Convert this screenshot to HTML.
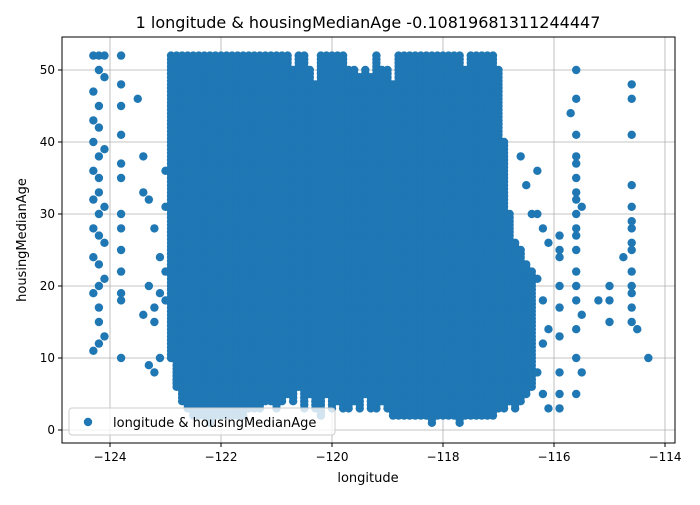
<!DOCTYPE html>
<html><head><meta charset="utf-8"><style>
body{margin:0;background:#fff;font-family:"Liberation Sans","DejaVu Sans",sans-serif}
svg text{font-family:"DejaVu Sans","Liberation Sans",sans-serif}
</style></head><body>
<svg id="c" width="700" height="500" xmlns="http://www.w3.org/2000/svg"></svg>
<script>
const xTicks=[-124,-122,-120,-118,-116,-114];
const yTicks=[0,10,20,30,40,50];
const denseLon=[-122.9,-122.8,-122.7,-122.6,-122.5,-122.4,-122.3,-122.2,-122.1,-122.0,
-121.9,-121.8,-121.7,-121.6,-121.5,-121.4,-121.3,-121.2,-121.1,-121.0,
-120.9,-120.8,-120.7,-120.6,-120.5,-120.4,-120.3,-120.2,-120.1,-120.0,
-119.9,-119.8,-119.7,-119.6,-119.5,-119.4,-119.3,-119.2,-119.1,-119.0,
-118.9,-118.8,-118.7,-118.6,-118.5,-118.4,-118.3,-118.2,-118.1,-118.0,
-117.9,-117.8,-117.7,-117.6,-117.5,-117.4,-117.3,-117.2,-117.1,-117.0,
-116.9,-116.8,-116.7,-116.6,-116.5,-116.4];
const denseMin=[10,6,4,3,2,2,2,1,2,2,
2,2,2,2,3,3,3,4,4,3,
4,5,4,6,3,5,3,2,5,3,
4,3,3,4,3,5,3,3,4,3,
2,2,2,2,2,2,2,1,2,2,
2,2,1,2,2,2,2,2,2,3,
3,4,3,4,5,6];
const denseMax=[52,52,52,52,52,52,52,52,52,52,
52,52,52,52,52,52,52,52,52,52,
52,52,50,52,52,50,48,52,52,52,
52,52,50,50,49,50,49,52,50,50,
48,52,52,52,52,52,52,52,52,52,
52,52,52,50,52,52,52,52,52,50,
40,30,26,25,23,22];
const sparseLon=[-124.3,-124.3,-124.3,-124.3,-124.3,-124.3,-124.3,-124.3,-124.3,-124.3,-124.2,-124.2,-124.2,-124.2,-124.2,-124.2,-124.2,-124.2,-124.2,-124.2,-124.2,-124.2,-124.2,-124.2,-124.1,-124.1,-124.1,-124.1,-124.1,-124.1,-124.1,-123.8,-123.8,-123.8,-123.8,-123.8,-123.8,-123.8,-123.8,-123.8,-123.8,-123.8,-123.8,-123.8,-123.5,-123.4,-123.4,-123.3,-123.3,-123.3,-123.2,-123.2,-123.2,-123.1,-123.1,-123.1,-123.0,-123.0,-123.0,-123.0,-123.2,-123.4,
-116.3,-116.3,-116.3,-116.2,-116.2,-116.2,-116.2,-116.1,-116.1,-116.1,-115.9,-115.9,-115.9,-115.9,-115.9,-115.9,-115.9,-115.9,-115.9,-115.7,-115.6,-115.6,-115.6,-115.6,-115.6,-115.6,-115.6,-115.6,-115.6,-115.6,-115.6,-115.6,-115.6,-115.6,-115.6,-115.6,-115.6,-115.6,-115.5,-115.5,-115.5,-115.2,-115.0,-115.0,-115.0,-114.75,-114.6,-114.6,-114.6,-114.6,-114.6,-114.6,-114.6,-114.6,-114.6,-114.6,-114.6,-114.6,-114.6,-114.6,-114.5,-114.3,
-116.7,-116.6,-116.5,-116.4,-116.3];
const sparseAge=[52,47,43,40,36,32,28,24,19,11,52,50,45,42,38,35,33,30,27,23,20,17,15,12,52,49,39,31,26,21,13,52,48,45,41,37,35,30,28,25,22,19,18,10,46,38,16,32,20,9,28,17,15,24,19,10,36,31,22,18,8,33,
30,21,8,28,18,12,5,26,14,3,27,25,24,20,17,13,8,5,3,44,50,46,41,38,37,35,33,32,30,28,27,25,22,20,18,14,10,5,31,16,8,18,20,18,15,24,48,46,41,34,31,29,28,26,25,22,20,19,17,15,14,10,15,
38,34,30,36,33];
const L=62,R=675,T=37,B=443;
const X=v=>110+(v+124)*55.5;
const Y=v=>430-v*7.2;
const svg=document.getElementById('c');
const NS='http://www.w3.org/2000/svg';
function mk(tag,attrs,parent){const e=document.createElementNS(NS,tag);for(const k in attrs)e.setAttribute(k,attrs[k]);(parent||svg).appendChild(e);return e;}
const grid=mk('g',{});


xTicks.forEach(t=>{const l=mk('line',{x1:X(t),x2:X(t),y1:T,y2:B,stroke:'#b0b0b0','stroke-width':0.8},grid);

});
yTicks.forEach(t=>{const l=mk('line',{x1:L,x2:R,y1:Y(t),y2:Y(t),stroke:'#b0b0b0','stroke-width':0.8},grid);

});
const pts=mk('g',{fill:'#1f77b4'});


denseLon.forEach((lon,i)=>{for(let a=denseMin[i];a<=denseMax[i];a+=0.5){const c=mk('circle',{cx:X(lon),cy:Y(a),r:4.2},pts);

}});
sparseLon.forEach((lon,i)=>{const c=mk('circle',{cx:X(lon),cy:Y(sparseAge[i]),r:4.2},pts);

});
const frame=mk('rect',{x:L,y:T,width:R-L,height:B-T,fill:'none',stroke:'#000','stroke-width':1});


xTicks.forEach(t=>{mk('line',{x1:X(t),x2:X(t),y1:B,y2:B+4,stroke:'#000'});
const tx=mk('text',{x:X(t),y:B+18,'text-anchor':'middle','font-size':12});tx.textContent='\u2212'+Math.abs(t);

});
yTicks.forEach(t=>{mk('line',{x1:L-4,x2:L,y1:Y(t),y2:Y(t),stroke:'#000'});
const tx=mk('text',{x:L-7,y:Y(t)+4,'text-anchor':'end','font-size':12});tx.textContent=t;

});
</script>
<svg style="position:absolute;left:0;top:0" width="700" height="500" xmlns="http://www.w3.org/2000/svg">
<text x="368" y="28" text-anchor="middle" font-size="16" font-family="DejaVu Sans, Liberation Sans, sans-serif">1 longitude &amp; housingMedianAge -0.10819681311244447</text>
<text x="368" y="482" text-anchor="middle" font-size="13" font-family="DejaVu Sans, Liberation Sans, sans-serif">longitude</text>
<text x="0" y="0" transform="translate(26,240) rotate(-90)" text-anchor="middle" font-size="13" font-family="DejaVu Sans, Liberation Sans, sans-serif">housingMedianAge</text>
<g>
<rect x="69" y="408" width="266" height="27" rx="3" fill="#fff" fill-opacity="0.8" stroke="#ccc"/>
<circle cx="88" cy="422" r="4.2" fill="#1f77b4"/>
<text x="113" y="427" font-size="13" font-family="DejaVu Sans, Liberation Sans, sans-serif">longitude &amp; housingMedianAge</text>
</g>
</svg>
</body></html>
